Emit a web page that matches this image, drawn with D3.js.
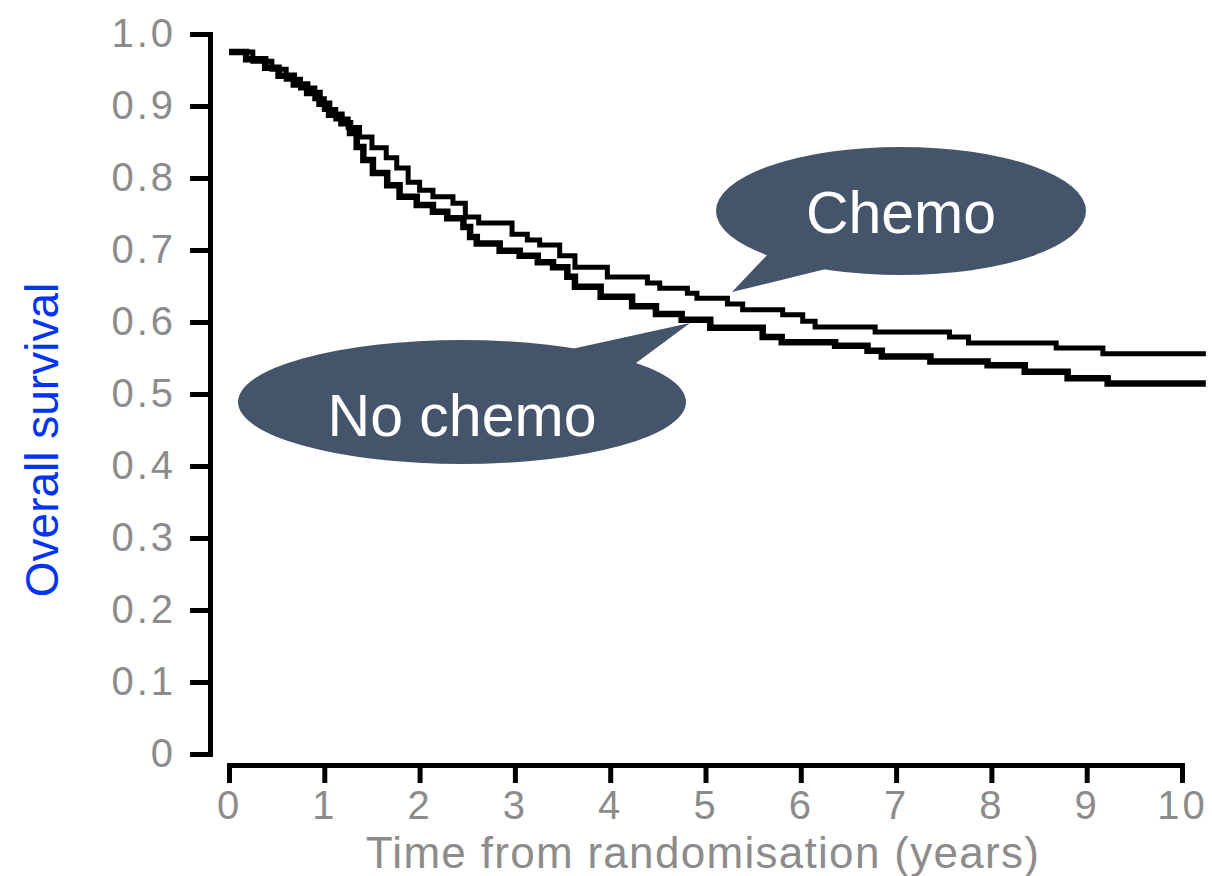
<!DOCTYPE html>
<html>
<head>
<meta charset="utf-8">
<script src="https://cdn.jsdelivr.net/npm/d3@7"></script>
<style>
  body { margin: 0; background: #fff; }
  svg { display: block; font-family: "Liberation Sans", Arial, sans-serif; }
  .axis path { stroke: #000; stroke-width: 5px; stroke-linecap: square; }
  .axis line { stroke: #000; stroke-width: 5px; }
  .axis text { fill: #8c8c8c; font-size: 40px; font-family: "Liberation Sans", Arial, sans-serif; letter-spacing: 3px; }
</style>
</head>
<body>
<svg id="chartKM" width="1212" height="876"></svg>
<script>
//data (years, survival proportion), step starts
const chemoTime = [0, 0.25, 0.45, 0.60, 0.75, 0.90, 1.00, 1.12, 1.25, 1.37, 1.50, 1.65, 1.76, 1.88, 2.00, 2.14, 2.35, 2.48, 2.62,
  2.97, 3.13, 3.26, 3.47, 3.63, 3.97, 4.39, 4.52, 4.81, 4.91, 5.23, 5.39, 5.81, 6.02, 6.15, 6.78, 7.56, 7.76, 8.68, 9.17, 10.25];
const chemoSurv = [0.975, 0.962, 0.951, 0.937, 0.925, 0.910, 0.895, 0.882, 0.870, 0.857, 0.842, 0.828, 0.814, 0.794, 0.783, 0.774, 0.765, 0.746, 0.7375,
  0.722, 0.714, 0.707, 0.692, 0.676, 0.6625, 0.654, 0.647, 0.640, 0.633, 0.625, 0.617, 0.610, 0.601, 0.593, 0.586, 0.579, 0.571, 0.564, 0.556, 0.556];

const noChemoTime = [0, 0.18, 0.38, 0.52, 0.68, 0.82, 0.95, 1.05, 1.18, 1.27, 1.34, 1.41, 1.51, 1.66, 1.79, 1.97, 2.14, 2.29, 2.46, 2.53,
  2.60, 2.84, 3.05, 3.24, 3.40, 3.55, 3.63, 3.90, 4.23, 4.48, 4.75, 5.05, 5.60, 5.80, 6.36, 6.70, 6.85, 7.36, 7.96, 8.35, 8.80, 9.22, 10.25];
const noChemoSurv = [0.975, 0.965, 0.953, 0.942, 0.930, 0.918, 0.903, 0.888, 0.876, 0.8625, 0.843, 0.825, 0.807, 0.790, 0.774, 0.7625, 0.753, 0.744, 0.732, 0.718,
  0.709, 0.699, 0.692, 0.683, 0.676, 0.663, 0.649, 0.635, 0.622, 0.611, 0.603, 0.592, 0.579, 0.572, 0.567, 0.560, 0.552, 0.545, 0.540, 0.531, 0.522, 0.5146, 0.5146];

const xTicks = [0, 1, 2, 3, 4, 5, 6, 7, 8, 9, 10];
const xTickLabels = ["0", "1", "2", "3", "4", "5", "6", "7", "8", "9", "10"];
const yTicks = [0, 0.1, 0.2, 0.3, 0.4, 0.5, 0.6, 0.7, 0.8, 0.9, 1.0];
const yTickLabels = ["0", "0.1", "0.2", "0.3", "0.4", "0.5", "0.6", "0.7", "0.8", "0.9", "1.0"];

const xTitle = "Time from randomisation (years)";
const yTitle = "Overall survival";
const calloutLabels = ["Chemo", "No chemo"];

//SVG setup
var svg = d3.select("#chartKM");
svg.append("rect").attr("width", 1212).attr("height", 876).attr("fill", "#fff");

const x = d3.scaleLinear().domain([0, 10]).range([229, 1182]);
const y = d3.scaleLinear().domain([0, 1]).range([754, 34]);

//axes
svg.append("g")
  .attr("class", "axis")
  .attr("transform", "translate(0,765)")
  .call(d3.axisBottom(x)
    .tickValues(xTicks)
    .tickFormat((d, i) => xTickLabels[i])
    .tickSize(18)
    .tickSizeOuter(0)
    .tickPadding(8));

svg.append("g")
  .attr("class", "axis")
  .attr("transform", "translate(210,0)")
  .call(d3.axisLeft(y)
    .tickValues(yTicks)
    .tickFormat((d, i) => yTickLabels[i])
    .tickSize(20)
    .tickSizeOuter(0)
    .tickPadding(14));

//axis titles
svg.append("text")
  .attr("x", 703)
  .attr("y", 868)
  .attr("text-anchor", "middle")
  .style("font-size", "44px")
  .style("letter-spacing", "1.3px")
  .style("fill", "#8c8c8c")
  .text(xTitle);

svg.append("text")
  .attr("transform", "translate(58,440) rotate(-90)")
  .attr("text-anchor", "middle")
  .style("font-size", "46px")
  .style("fill", "#0033f5")
  .text(yTitle);

//survival curves
const line = d3.line()
  .x(d => x(d[0]))
  .y(d => y(d[1]))
  .curve(d3.curveStepAfter);

const series = [
  chemoTime.map((t, i) => [t, chemoSurv[i]]),
  noChemoTime.map((t, i) => [t, noChemoSurv[i]])
];

svg.selectAll(".km")
  .data(series)
  .enter()
  .append("path")
    .attr("class", "km")
    .attr("d", line)
    .attr("fill", "none")
    .attr("stroke", "#000")
    .attr("stroke-width", (d, i) => i == 0 ? 5 : 6.5);

//callouts
const calloutColor = "#44546a";

function callout(cx, cy, rx, ry, tail, label, ty) {
  let g = svg.append("g");
  g.append("ellipse")
    .attr("cx", cx).attr("cy", cy).attr("rx", rx).attr("ry", ry)
    .attr("fill", calloutColor);
  g.append("path")
    .attr("d", "M" + tail.map(p => p.join(",")).join("L") + "Z")
    .attr("fill", calloutColor);
  g.append("text")
    .attr("x", cx).attr("y", ty)
    .attr("text-anchor", "middle")
    .style("font-size", "59px")
    .style("fill", "#fff")
    .text(label);
}

callout(901, 211, 185, 64, [[770, 252], [732, 292], [830, 268]], calloutLabels[0], 233);
callout(462, 402, 224, 62, [[567, 350], [690, 323], [632, 366]], calloutLabels[1], 436);
</script>
</body>
</html>
